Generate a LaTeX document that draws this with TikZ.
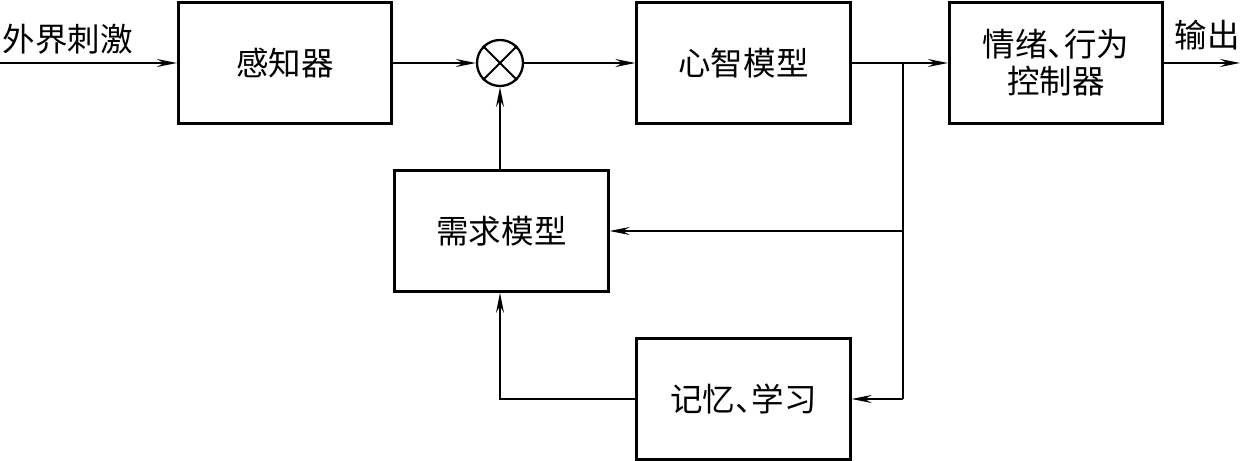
\documentclass[tikz,border=0pt]{standalone}
\usepackage{fontspec}
\setmainfont{Noto Sans CJK SC}
\usetikzlibrary{arrows.meta}

\begin{document}
\begin{tikzpicture}[
    >={Stealth[length=4mm,width=1.6mm,inset=1.4mm]},
    block/.style={draw, line width=1.6pt, minimum width=4.27cm, minimum height=2.42cm,
                  align=center, font=\fontsize{18.5}{21}\selectfont},
    wire/.style={line width=1.1pt},
    lbl/.style={font=\fontsize{18.5}{21}\selectfont}
]
\useasboundingbox (0,0) rectangle (24.82,-9.22);

\node[block] (perc) at (5.70,-1.26) {感知器};
\node[draw, circle, line width=1.3pt, minimum size=0.92cm, inner sep=0pt] (sum) at (10.0,-1.26) {};
\node[block] (mind) at (14.87,-1.26) {心智模型};
\node[block] (emo) at (21.12,-1.26) {情绪、\kern-0.5em行为\\控制器};
\node[block] (need) at (10.03,-4.62) {需求模型};
\node[block] (mem) at (14.87,-7.98) {记忆、\kern-0.5em学习};

\coordinate (in) at (0,-1.26);
\coordinate (out) at (24.80,-1.26);
\coordinate (br) at (18.06,-1.26);
\coordinate (brneed) at (18.06,-4.62);
\coordinate (brmem) at (18.06,-7.98);
\coordinate (memturn) at (10.0,-7.98);

\node[lbl] (inlbl) at (1.36,-0.78) {外界刺激};
\node[lbl] (outlbl) at (24.14,-0.70) {输出};

% cross inside the summing point
\draw[line width=1.1pt] (sum.45) -- (sum.225);
\draw[line width=1.1pt] (sum.135) -- (sum.315);

\draw[wire,->] (in) -- (perc);
\draw[wire,->] (perc) -- (sum);
\draw[wire,->] (sum) -- (mind);
\draw[wire,->] (mind) -- (emo);
\draw[wire,->] (emo) -- (out);

\draw[wire] (br) -- (brmem);
\draw[wire,->] (brneed) -- (need);
\draw[wire,->] (brmem) -- (mem);

\draw[wire,->] (mem.west) -- (memturn) -- (memturn |- need.south);
\draw[wire,->] (need.north -| sum) -- (sum);
\end{tikzpicture}
\end{document}
